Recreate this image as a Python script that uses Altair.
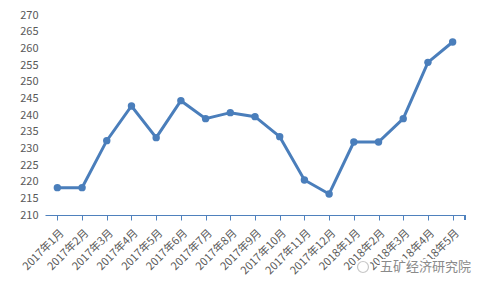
import altair as alt
import pandas as pd

months = ["2017年1月", "2017年2月", "2017年3月", "2017年4月", "2017年5月", "2017年6月",
          "2017年7月", "2017年8月", "2017年9月", "2017年10月", "2017年11月", "2017年12月",
          "2018年1月", "2018年2月", "2018年3月", "2018年4月", "2018年5月"]
values = [218.2, 218.2, 232.3, 242.7, 233.2, 244.3, 238.9, 240.7, 239.5, 233.5,
          220.5, 216.3, 231.9, 231.9, 238.9, 255.8, 261.9]
y_ticks = list(range(210, 275, 5))

df = pd.DataFrame({"month": months, "value": values})

FONT = "Noto Sans CJK SC"
BLUE = "#4a7ebb"
AXIS_BLUE = "#4f81bd"
GRAY = "#595959"

x_enc = alt.X("month:N", sort=months, title=None,
              scale=alt.Scale(paddingInner=0, paddingOuter=0),
              axis=alt.Axis(bandPosition=0, labelOffset=4.5, labelAngle=-45,
                            labelAlign="right", labelBaseline="middle",
                            labelFont=FONT, labelFontSize=11, labelColor=GRAY,
                            domainColor=AXIS_BLUE, tickColor=AXIS_BLUE, tickSize=5,
                            labelPadding=11, grid=False))
y_enc = alt.Y("value:Q", title=None,
              scale=alt.Scale(domain=[210, 270], nice=False, zero=False),
              axis=alt.Axis(values=y_ticks, domain=False, ticks=False, grid=False,
                            labelFont=FONT, labelFontSize=11, labelColor=GRAY,
                            labelPadding=7))

base = alt.Chart(df)
line = base.mark_line(color=BLUE, strokeWidth=3).encode(x=x_enc, y=y_enc)
pts = base.mark_point(filled=True, color=BLUE, size=55, opacity=1).encode(x=x_enc, y=y_enc)
end_tick = base.mark_rule(color=AXIS_BLUE).encode(
    x=alt.value(420), y=alt.value(200), y2=alt.value(205))

wm_df = pd.DataFrame({"t": ["五矿经济研究院"]})
wm_halo = alt.Chart(wm_df).mark_text(
    font=FONT, fontSize=13, color="white", stroke="white", strokeWidth=4,
    align="right", baseline="middle"
).encode(text="t:N", x=alt.value(426), y=alt.value(252))
wm_text = alt.Chart(wm_df).mark_text(
    font=FONT, fontSize=13, color="#8a8a8a", align="right", baseline="middle"
).encode(text="t:N", x=alt.value(426), y=alt.value(252))
wm_icon_bg = alt.Chart(wm_df).mark_point(
    shape="circle", filled=True, color="white", size=260, opacity=1
).encode(x=alt.value(318), y=alt.value(252))
wm_icon = alt.Chart(wm_df).mark_point(
    shape="circle", filled=False, color="#b0b0b0", size=120, strokeWidth=1.2
).encode(x=alt.value(318), y=alt.value(252))

chart = alt.layer(line, pts, end_tick, wm_icon_bg, wm_icon, wm_halo, wm_text).properties(
    width=420, height=200,
    padding={"left": 45, "top": 15, "right": 15, "bottom": 73},
    autosize="none",
    background="white",
).configure_view(stroke=None)

chart.save("out.html", embed_options={"renderer": "svg", "actions": False})
